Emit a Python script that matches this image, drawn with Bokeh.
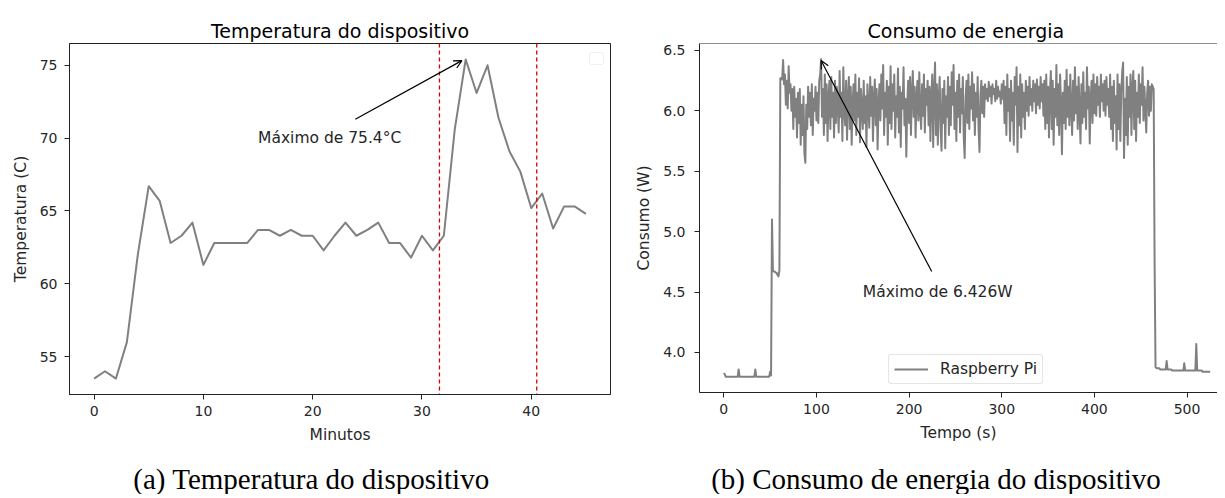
import numpy as np
from bokeh.plotting import figure
from bokeh.layouts import row, column
from bokeh.models import (Range1d, FixedTicker, NumeralTickFormatter, Span, Label, Arrow,
                          OpenHead, Legend, LegendItem, BoxAnnotation)
from bokeh.embed import file_html
from bokeh.resources import INLINE

# ---------------- data: (a) temperature ----------------
minutos = list(range(46))
temperatura = [53.5, 54.0, 53.5, 56.0, 62.0, 66.7, 65.7, 62.8, 63.3, 64.2,
               61.3, 62.8, 62.8, 62.8, 62.8, 63.7, 63.7, 63.3, 63.7, 63.3,
               63.3, 62.3, 63.3, 64.2, 63.3, 63.7, 64.2, 62.8, 62.8, 61.8,
               63.3, 62.3, 63.3, 70.6, 75.4, 73.1, 75.0, 71.4, 69.1, 67.7,
               65.2, 66.2, 63.8, 65.3, 65.3, 64.8]
marcadores = [31.6, 40.5]
ticks_a_x = [0, 10, 20, 30, 40]
ticks_a_y = [55, 60, 65, 70, 75]
legenda_a = "(a) Temperatura do dispositivo"

# ---------------- data: (b) power, one reading per second ----------------
tempo = list(range(526))
consumo = [
    # 0-60 s (idle, boot)
    3.83, 3.82, 3.80, 3.80, 3.80, 3.80, 3.80, 3.80, 3.80, 3.80,
    3.80, 3.80, 3.80, 3.80, 3.80, 3.80, 3.86, 3.80, 3.80, 3.80,
    3.80, 3.80, 3.80, 3.80, 3.80, 3.80, 3.80, 3.80, 3.80, 3.80,
    3.80, 3.80, 3.80, 3.80, 3.86, 3.80, 3.80, 3.80, 3.80, 3.80,
    3.80, 3.80, 3.80, 3.80, 3.80, 3.80, 3.80, 3.80, 3.80, 3.80,
    3.84, 3.81, 5.10, 4.68, 4.67, 4.67, 4.66, 4.66, 4.64, 4.63,
    4.68,
    # 61-464 s (load)
    6.27, 6.27, 6.26, 6.42, 6.22, 6.30, 6.05, 6.25, 6.02, 6.37,
    6.15, 6.22, 6.00, 6.18, 5.85, 6.20, 5.95, 6.10, 5.78, 6.15,
    5.90, 6.18, 5.72, 6.05, 5.80, 6.12, 5.65, 5.57, 6.05, 5.85,
    6.20, 5.95, 6.15, 5.88, 6.22, 5.80, 6.10, 6.00, 6.20, 5.92,
    6.15, 5.90, 6.25, 6.30, 6.426, 5.95, 6.18, 5.80, 6.30, 5.90,
    6.22, 5.75, 6.10, 6.25, 5.85, 6.28, 5.95, 6.15, 5.78, 6.25,
    5.90, 6.20, 6.05, 5.82, 6.33, 5.95, 6.15, 5.75, 6.36, 6.00,
    5.88, 6.25, 5.76, 6.10, 6.28, 5.85, 6.20, 5.72, 6.05, 6.22,
    5.92, 6.30, 5.80, 6.15, 5.95, 6.27, 5.74, 6.18, 6.02, 5.85,
    6.25, 5.90, 6.12, 5.70, 6.22, 6.05, 5.86, 6.28, 5.96, 6.20,
    5.75, 6.10, 6.26, 5.88, 6.18, 5.68, 6.05, 6.22, 5.92, 6.30,
    6.02, 6.38, 5.80, 6.15, 5.95, 6.25, 5.72, 6.20, 5.90, 6.37,
    5.85, 6.22, 6.00, 6.30, 5.78, 6.12, 5.95, 6.35, 5.82, 6.20,
    5.70, 6.15, 6.02, 6.36, 5.88, 6.10, 5.62, 6.05, 6.25, 5.90,
    6.28, 5.80, 6.15, 6.33, 5.95, 6.20, 5.78, 6.10, 6.25, 5.92,
    6.32, 6.00, 5.85, 6.22, 5.96, 6.30, 5.82, 6.18, 6.05, 6.25,
    5.88, 6.20, 5.75, 6.12, 6.30, 5.70, 6.15, 6.40, 5.80, 6.22,
    5.72, 6.10, 6.28, 5.85, 5.67, 6.18, 5.90, 6.25, 5.69, 6.12,
    5.95, 6.28, 5.80, 6.20, 5.88, 6.32, 6.05, 6.38, 5.85, 6.15,
    5.75, 6.25, 5.95, 6.30, 5.82, 6.18, 5.98, 6.28, 5.78, 5.61,
    6.10, 6.25, 5.90, 6.30, 5.85, 6.20, 6.02, 6.32, 5.92, 6.22,
    5.80, 6.15, 5.95, 6.28, 5.85, 5.66, 6.12, 6.25, 5.98, 6.20,
    5.95, 6.22, 6.10, 6.18, 6.08, 6.24, 6.12, 6.20, 6.06, 6.22,
    6.14, 6.18, 6.08, 6.25, 6.10, 6.20, 6.12, 6.16, 6.06, 6.22,
    6.10, 6.25, 5.90, 6.20, 5.80, 6.30, 6.00, 6.18, 5.75, 6.25,
    5.92, 6.15, 5.72, 6.28, 6.05, 6.36, 5.66, 6.20, 5.88, 6.30,
    5.78, 6.22, 5.95, 6.15, 5.85, 6.25, 6.00, 6.20, 5.96, 6.28,
    6.05, 6.18, 6.00, 6.25, 6.08, 6.22, 5.98, 6.26, 6.05, 6.20,
    6.02, 6.28, 6.08, 6.22, 5.96, 6.25, 5.85, 6.30, 5.90, 6.20,
    5.78, 6.15, 6.33, 5.85, 6.25, 5.72, 6.18, 5.95, 6.38, 5.88,
    6.22, 5.80, 6.30, 6.05, 5.64, 6.15, 5.90, 6.25, 5.85, 6.34,
    5.95, 6.20, 5.88, 6.30, 6.02, 5.80, 6.25, 5.92, 6.36, 5.98,
    6.20, 5.85, 6.28, 6.00, 5.73, 6.22, 5.90, 6.32, 5.95, 6.15,
    5.85, 6.36, 6.02, 6.20, 5.73, 6.10, 6.25, 5.90, 6.30, 5.98,
    6.22, 5.96, 6.28, 6.05, 6.20, 5.95, 6.30, 6.08, 6.22, 6.00,
    6.25, 5.96, 6.28, 6.05, 6.18, 5.95, 6.30, 5.85, 6.20, 5.75,
    6.25, 5.90, 6.12, 5.68, 6.30, 5.85, 6.22, 5.75, 6.15, 6.32,
    6.40, 5.61, 6.10, 5.80, 6.28, 5.72, 6.20, 5.95, 6.30, 5.80,
    6.18, 6.33, 5.85, 6.25, 5.75, 6.15, 5.95, 6.30, 5.90, 6.22,
    6.05, 6.36, 5.92, 6.20, 6.00, 5.82, 6.15, 6.25, 5.96, 6.20,
    6.00, 6.22, 6.20, 6.18,
    # 465-525 s (idle again)
    4.75, 3.88,
    3.87, 3.87, 3.87, 3.87, 3.86, 3.86, 3.86, 3.86, 3.86, 3.86, 3.86,
    3.93,
    3.86, 3.86, 3.86, 3.86, 3.86, 3.85, 3.85, 3.85, 3.85, 3.85,
    3.85, 3.85, 3.85, 3.85, 3.85, 3.85, 3.85, 3.85,
    3.91,
    3.85, 3.85, 3.85, 3.85, 3.85, 3.85, 3.85, 3.85, 3.85, 3.85, 3.85, 3.85,
    4.07,
    3.85, 3.85, 3.85, 3.85, 3.85, 3.85, 3.84, 3.84, 3.84, 3.84,
    3.84, 3.84, 3.84, 3.84, 3.84,
]
ticks_b_x = [0, 100, 200, 300, 400, 500]
ticks_b_y = [4.0, 4.5, 5.0, 5.5, 6.0, 6.5]
serie_b = "Raspberry Pi"
legenda_b = "(b) Consumo de energia do dispositivo"

# ---------------- style ----------------
SANS = "DejaVu Sans"
SERIF = "Liberation Serif"
DARK = "#222222"
TXT = "#262626"
LINE = "#808080"


def padded(lo, hi, frac=0.05):
    s = hi - lo
    return lo - frac * s, hi + frac * s


def style(p):
    p.xgrid.visible = False
    p.ygrid.visible = False
    p.background_fill_color = "white"
    p.border_fill_color = "white"
    for ax in (p.xaxis[0], p.yaxis[0]):
        ax.major_tick_in = 0
        ax.major_tick_out = 5
        ax.minor_tick_line_color = None
        ax.axis_line_color = DARK
        ax.major_tick_line_color = DARK
        ax.major_label_text_font = SANS
        ax.major_label_text_font_size = "14px"
        ax.major_label_text_color = TXT
        ax.axis_label_text_font = SANS
        ax.axis_label_text_font_size = "15.5px"
        ax.axis_label_text_font_style = "normal"
        ax.axis_label_text_color = TXT
        ax.axis_label_standoff = 7
    p.xaxis.major_label_standoff = 6
    p.yaxis.major_label_standoff = 7
    p.title.text_font = SANS
    p.title.text_font_size = "19px"
    p.title.text_font_style = "normal"
    p.title.text_color = "black"


CAP_H = 48


def caption_fig(width, cx, base, text):
    c = figure(width=width, height=CAP_H, x_range=Range1d(0, width), y_range=Range1d(CAP_H, 0),
               x_axis_location=None, y_axis_location=None, min_border=0,
               output_backend="svg", toolbar_location=None)
    c.xgrid.visible = False
    c.ygrid.visible = False
    c.outline_line_color = None
    c.add_layout(Label(x=cx, y=base, text=text, text_font=SERIF, text_font_size="29px",
                       text_color="black", text_align="center", text_baseline="alphabetic"))
    return c


# ---------------- (a) ----------------
FWA, FHA = 541, 351
xa = padded(min(minutos), max(minutos))
ya = padded(min(temperatura), max(temperatura))
pa = figure(frame_width=FWA, frame_height=FHA, min_border_left=69, min_border_right=22,
            min_border_top=41, min_border_bottom=54,
            x_range=Range1d(*xa), y_range=Range1d(*ya),
            title="Temperatura do dispositivo",
            output_backend="svg", toolbar_location=None)
style(pa)
pa.title.align = "center"
pa.title.standoff = 4
pa.outline_line_color = DARK
pa.outline_line_width = 1
pa.outline_line_alpha = 1
pa.xaxis.ticker = FixedTicker(ticks=ticks_a_x)
pa.yaxis.ticker = FixedTicker(ticks=ticks_a_y)
pa.xaxis.axis_label = "Minutos"
pa.yaxis.axis_label = "Temperatura (C)"

pa.line(minutos, temperatura, line_color=LINE, line_width=2, line_join="round")
for m in marcadores:
    pa.add_layout(Span(location=m, dimension="height", line_color="#d40000",
                       line_width=1.3, line_dash="4 3"))

ia = int(np.argmax(temperatura))
tmax_a, vmax_a = minutos[ia], temperatura[ia]
pa.add_layout(Label(x=15, y=70, text=f"Máximo de {vmax_a:.1f}°C", text_font=SANS,
                    text_font_size="15.5px", text_color=TXT, text_baseline="alphabetic"))
pa.add_layout(Arrow(end=OpenHead(size=8, line_width=1.2, line_color="black"),
                    x_start=23.9, y_start=71.3, x_end=tmax_a - 0.35, y_end=vmax_a - 0.08,
                    line_width=1.2, line_color="black"))

# empty legend frame (upper right corner)
pxa = (xa[1] - xa[0]) / FWA
pya = (ya[1] - ya[0]) / FHA
pa.add_layout(BoxAnnotation(left=xa[1] - 21 * pxa, right=xa[1] - 7 * pxa,
                            top=ya[1] - 9 * pya, bottom=ya[1] - 21 * pya,
                            fill_color="white", fill_alpha=1, line_color="#cccccc",
                            line_width=1, border_radius=2))

# ---------------- (b) ----------------
FWB, FHB = 518, 349
xb0, xb_full = padded(min(tempo), max(tempo))
xb = (xb0, xb0 + (xb_full - xb0) * FWB / 535.0)   # right part cut off like the original
yb = padded(min(consumo), max(consumo))
pb = figure(frame_width=FWB, frame_height=FHB, min_border_left=65, min_border_right=0,
            min_border_top=43, min_border_bottom=54,
            x_range=Range1d(*xb), y_range=Range1d(*yb),
            title="Consumo de energia",
            output_backend="svg", toolbar_location=None)
style(pb)
pb.title.align = "left"
pb.title.offset = 168
pb.title.standoff = 4
pb.outline_line_color = None
pb.add_layout(Span(location=yb[1], dimension="width", line_color=DARK, line_width=1))
pb.xaxis.ticker = FixedTicker(ticks=ticks_b_x)
pb.yaxis.ticker = FixedTicker(ticks=ticks_b_y)
pb.yaxis.formatter = NumeralTickFormatter(format="0.0")
pb.xaxis.axis_label = "Tempo (s)"
pb.yaxis.axis_label = "Consumo (W)"
pb.yaxis.major_label_standoff = 9

rb = pb.line(tempo, consumo, line_color=LINE, line_width=2, line_join="round")

ib = int(np.argmax(consumo))
tmax_b, vmax_b = tempo[ib], consumo[ib]
pb.add_layout(Label(x=150, y=4.5, text=f"Máximo de {vmax_b:.3f}W", text_font=SANS,
                    text_font_size="15.5px", text_color=TXT, text_baseline="alphabetic"))
pb.add_layout(Arrow(end=OpenHead(size=8, line_width=1.2, line_color="black"),
                    x_start=224.4, y_start=4.67, x_end=tmax_b, y_end=vmax_b - 0.01,
                    line_width=1.2, line_color="black"))

leg = Legend(items=[LegendItem(label=serie_b, renderers=[rb])], location=(189, 8),
             padding=5, glyph_width=34, glyph_height=18, label_standoff=12,
             label_text_font=SANS, label_text_font_size="15.5px", label_text_color=TXT,
             border_line_color="#cccccc", border_line_width=1, border_radius=3,
             background_fill_alpha=0.8, margin=0)
pb.add_layout(leg)

# ---------------- captions ----------------
ca = caption_fig(632, 311, 32, legenda_a)
cb = caption_fig(583, 303.5, 32, legenda_b)

layout = column(row(pa, pb), row(ca, cb))
open("out.html", "w").write(file_html(layout, INLINE))
